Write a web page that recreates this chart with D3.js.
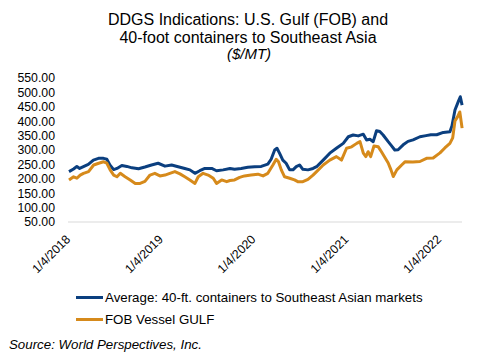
<!DOCTYPE html>
<html>
<head>
<meta charset="utf-8">
<script src="https://cdn.jsdelivr.net/npm/d3@7"></script>
<style>
  body { margin: 0; background: #fff; }
  svg { display: block; font-family: "Liberation Sans", Arial, sans-serif; }
</style>
</head>
<body>
<svg id="chart" width="483" height="354"></svg>
<script>
// weekly-ish readings, $/MT
const containerDates = ["2018-01-04","2018-01-22","2018-02-04","2018-02-15","2018-03-04","2018-03-21","2018-04-10","2018-04-30","2018-05-20","2018-06-02","2018-06-14","2018-06-29","2018-07-12","2018-07-31","2018-08-20","2018-09-09","2018-10-05","2018-10-30","2018-11-25","2018-12-21","2019-01-17","2019-02-12","2019-03-10","2019-04-05","2019-04-25","2019-05-15","2019-06-03","2019-06-23","2019-07-20","2019-08-08","2019-09-03","2019-09-30","2019-10-18","2019-11-13","2019-12-09","2020-01-05","2020-01-31","2020-02-26","2020-03-10","2020-03-24","2020-04-02","2020-04-12","2020-04-25","2020-05-08","2020-05-22","2020-06-04","2020-06-17","2020-06-30","2020-07-13","2020-08-02","2020-08-22","2020-09-05","2020-10-01","2020-10-27","2020-11-22","2020-12-19","2021-01-08","2021-01-27","2021-02-16","2021-03-08","2021-03-21","2021-04-03","2021-04-16","2021-04-29","2021-05-12","2021-05-25","2021-06-14","2021-06-25","2021-07-10","2021-07-23","2021-08-12","2021-08-31","2021-09-20","2021-10-17","2021-11-10","2021-11-29","2021-12-22","2022-01-17","2022-02-12","2022-02-20","2022-03-04","2022-03-17","2022-03-25","2022-04-01"];
const containerValues = [225,234,243,236,243,250,265,271,271,268,248,232,236,246,243,238,235,241,248,254,244,248,242,236,231,219,228,236,236,228,231,236,233,236,240,242,243,251,268,300,306,289,265,254,231,231,242,248,233,231,236,242,265,289,306,323,346,352,349,355,335,337,329,367,364,352,329,317,300,301,318,330,335,346,350,353,353,361,363,383,439,468,485,456];

const fobDates = ["2018-01-04","2018-01-22","2018-02-04","2018-02-17","2018-03-02","2018-03-22","2018-04-11","2018-05-01","2018-05-20","2018-06-02","2018-06-15","2018-06-29","2018-07-12","2018-07-25","2018-08-13","2018-09-02","2018-09-22","2018-10-11","2018-10-30","2018-11-19","2018-12-08","2018-12-28","2019-01-17","2019-02-05","2019-02-25","2019-03-17","2019-04-05","2019-04-25","2019-05-15","2019-05-28","2019-06-16","2019-07-06","2019-07-26","2019-08-08","2019-08-28","2019-09-17","2019-09-30","2019-10-18","2019-11-07","2019-11-26","2019-12-22","2020-01-18","2020-02-07","2020-02-26","2020-03-17","2020-03-30","2020-04-08","2020-04-19","2020-05-02","2020-05-22","2020-06-10","2020-06-23","2020-07-13","2020-08-02","2020-08-22","2020-09-05","2020-10-01","2020-10-27","2020-11-22","2020-12-12","2021-01-01","2021-01-21","2021-02-10","2021-02-23","2021-03-08","2021-03-18","2021-03-27","2021-04-06","2021-04-19","2021-05-06","2021-05-19","2021-06-01","2021-06-14","2021-06-25","2021-07-04","2021-07-18","2021-08-06","2021-08-19","2021-09-19","2021-10-17","2021-11-12","2021-12-08","2022-01-04","2022-01-23","2022-02-12","2022-02-23","2022-03-04","2022-03-14","2022-03-23","2022-04-01"];
const fobValues = [196,207,202,213,219,225,248,254,259,254,231,213,207,219,207,196,184,184,191,213,219,210,213,219,225,217,207,196,184,207,219,213,202,184,196,190,194,196,205,210,213,216,210,219,248,268,259,231,207,202,196,190,190,198,213,225,248,265,277,265,306,311,323,329,289,277,294,277,314,311,293,274,255,231,208,231,248,259,258,260,271,272,290,307,323,342,401,415,432,376];

const yTicks = [50,100,150,200,250,300,350,400,450,500,550];
const xTicks = ["2018-01-04","2019-01-04","2020-01-04","2021-01-04","2022-01-04"];

const seriesNames = ["Average: 40-ft. containers to Southeast Asian markets", "FOB Vessel GULF"];
const colors = ["#0b3f7f", "#d68a1b"];

const parse = d3.timeParse("%Y-%m-%d");
const fmtTick = d => `${d.getMonth() + 1}/${d.getDate()}/${d.getFullYear()}`;

const series = [
  containerDates.map((d, i) => ({ date: parse(d), value: containerValues[i] })),
  fobDates.map((d, i) => ({ date: parse(d), value: fobValues[i] }))
];

const svg = d3.select("#chart");

const x = d3.scaleTime()
  .domain([parse(xTicks[0]), parse(xTicks[xTicks.length - 1])])
  .range([69, 440]);
const y = d3.scaleLinear().domain([50, 550]).range([222, 78]);

// title
const title = svg.append("text")
  .attr("text-anchor", "middle")
  .attr("fill", "#000");
title.append("tspan").attr("x", 248).attr("y", 24.5).attr("font-size", "16px")
  .text("DDGS Indications: U.S. Gulf (FOB) and");
title.append("tspan").attr("x", 248).attr("y", 42.5).attr("font-size", "16px")
  .text("40-foot containers to Southeast Asia");
title.append("tspan").attr("x", 249).attr("y", 58.5).attr("font-size", "15px")
  .attr("font-style", "italic").text("($/MT)");

// baseline
svg.append("line")
  .attr("x1", 68).attr("x2", 462)
  .attr("y1", y(50)).attr("y2", y(50))
  .attr("stroke", "#d9d9d9").attr("stroke-width", 1);

// y axis labels
svg.append("g").selectAll("text")
  .data(yTicks)
  .join("text")
  .attr("x", 55)
  .attr("y", d => y(d))
  .attr("dy", "0.35em")
  .attr("text-anchor", "end")
  .attr("font-size", "12.3px")
  .attr("fill", "#000")
  .text(d => d3.format(".2f")(d));

// x axis labels
svg.append("g").selectAll("text")
  .data(xTicks.map(parse))
  .join("text")
  .attr("transform", d => `translate(${x(d) - 1},237) rotate(-45)`)
  .attr("dy", "0.35em")
  .attr("text-anchor", "end")
  .attr("font-size", "12.3px")
  .attr("fill", "#000")
  .text(fmtTick);

// lines
const line = d3.line().x(d => x(d.date)).y(d => y(d.value));
svg.append("g").selectAll("path")
  .data(series)
  .join("path")
  .attr("d", line)
  .attr("fill", "none")
  .attr("stroke", (d, i) => colors[i])
  .attr("stroke-width", 3)
  .attr("stroke-linejoin", "round");

// legend
const legend = svg.append("g").selectAll("g")
  .data(seriesNames)
  .join("g")
  .attr("transform", (d, i) => `translate(76,${297.5 + i * 22})`);
legend.append("line")
  .attr("x1", 0).attr("x2", 27)
  .attr("stroke", (d, i) => colors[i])
  .attr("stroke-width", 3);
legend.append("text")
  .attr("x", 29)
  .attr("dy", "0.35em")
  .attr("font-size", "13.3px")
  .attr("fill", "#000")
  .text(d => d);

svg.append("text")
  .attr("x", 9).attr("y", 349)
  .attr("font-size", "13.3px")
  .attr("font-style", "italic")
  .attr("fill", "#000")
  .text("Source: World Perspectives, Inc.");
</script>
</body>
</html>
